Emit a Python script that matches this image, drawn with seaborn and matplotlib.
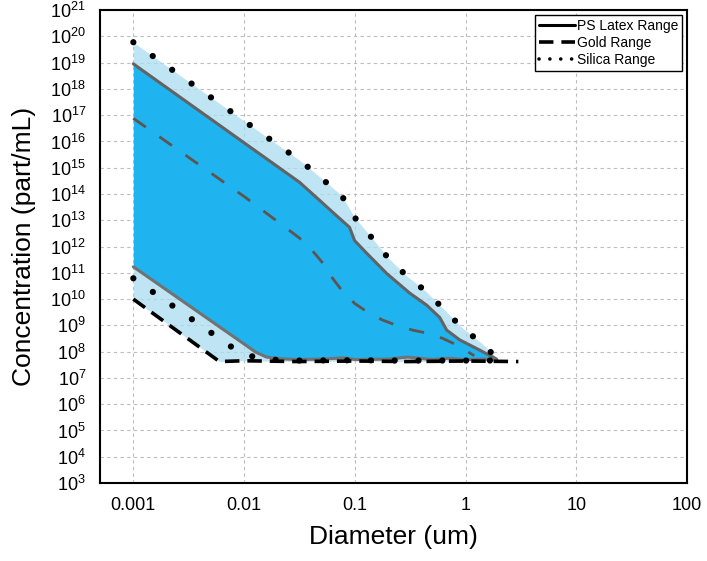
import matplotlib
matplotlib.use('Agg')
import matplotlib.pyplot as plt
import seaborn as sns
import numpy as np
import pandas as pd
from matplotlib.lines import Line2D
from matplotlib.ticker import LogLocator, NullLocator, NullFormatter

# PS Latex range - upper / lower limit (diameter um, part/mL)
ps_hi_d = [0.001, 0.0317, 0.048, 0.0684, 0.0897, 0.0995, 0.128, 0.194, 0.313,
           0.446, 0.585, 0.676, 0.887, 1.34, 1.91]
ps_hi_c = [9e18, 2.8e14, 5.8e13, 1.5e13, 5.4e12, 1.7e12, 5.6e11, 9.5e10, 1.7e10,
           5.9e9, 2.0e9, 6.6e8, 2.8e8, 1.15e8, 5.2e7]
ps_lo_d = [0.001, 0.0103, 0.0127, 0.016, 0.021, 0.03, 0.05, 0.08, 0.1, 0.2,
           0.3, 0.5, 0.7, 1.0, 1.5, 1.91]
ps_lo_c = [1.7e11, 1.8e8, 9.6e7, 6.2e7, 5.4e7, 5.0e7, 5.2e7, 5.8e7, 5.0e7, 5.2e7,
           6.2e7, 5.0e7, 5.6e7, 5.0e7, 5.2e7, 5.0e7]

# Gold range
gold_hi_d = [0.001, 0.0103, 0.0317, 0.0433, 0.0534, 0.063, 0.076, 0.0995, 0.130,
             0.178, 0.239, 0.333, 0.455, 0.622, 0.832, 1.2]
gold_hi_c = [7.6e16, 7.4e13, 2.1e12, 5.6e11, 1.95e11, 6.2e10, 2.2e10, 6.9e9, 3.2e9,
             1.6e9, 1.0e9, 6.6e8, 5.0e8, 3.2e8, 1.8e8, 7e7]
gold_lo_d = [0.001, 0.006, 0.01, 0.03, 0.1, 0.3, 1.0, 3.0]
gold_lo_c = [1.0e10, 4.2e7, 4.5e7, 4.2e7, 4.4e7, 4.2e7, 4.4e7, 4.2e7]

# Silica range
si_hi_d = [0.001, 0.0337, 0.076, 0.0995, 0.142, 0.198, 0.29, 0.437, 0.635, 0.92, 1.40, 2.0]
si_hi_c = [6e19, 1.6e15, 8.9e13, 1.3e13, 2.2e12, 3.9e11, 8.1e10, 2.0e10, 4.2e9, 8.5e8, 2.1e8, 4.8e7]
si_lo_d = [0.001, 0.0093, 0.015, 0.03, 0.1, 0.3, 1.0, 2.0]
si_lo_c = [6.2e10, 8.7e7, 5.1e7, 4.6e7, 4.7e7, 4.6e7, 4.6e7, 4.6e7]

x_ticks = [0.001, 0.01, 0.1, 1, 10, 100]
x_labels = ['0.001', '0.01', '0.1', '1', '10', '100']
legend_labels = ['PS Latex Range', 'Gold Range', 'Silica Range']

sns.set_style('white')
plt.rcParams['font.family'] = ['Liberation Sans', 'DejaVu Sans']
plt.rcParams['mathtext.default'] = 'regular'
plt.rcParams['text.color'] = 'black'
plt.rcParams['axes.labelcolor'] = 'black'
plt.rcParams['xtick.color'] = 'black'
plt.rcParams['ytick.color'] = 'black'


def log_interp(xg, d, c):
    return 10 ** np.interp(np.log10(xg), np.log10(d), np.log10(c))


fig = plt.figure(figsize=(7.07, 5.61), dpi=100)
ax = fig.add_axes([0.1414, 0.139, 0.8303, 0.843])
ax.set_xscale('log')
ax.set_yscale('log')

# bandes de fond (la claire laisse voir la grille)
xg = np.logspace(-3, np.log10(si_hi_d[-1]), 400)
ax.fill_between(xg, log_interp(xg, gold_lo_d, gold_lo_c), log_interp(xg, si_hi_d, si_hi_c),
                color='#aadcf0', alpha=0.75, lw=0, zorder=1)
xg2 = np.logspace(-3, np.log10(ps_hi_d[-1]), 400)
ax.fill_between(xg2, log_interp(xg2, ps_lo_d, ps_lo_c), log_interp(xg2, ps_hi_d, ps_hi_c),
                color='#1fb3ef', lw=0, zorder=2)

curves = [
    (ps_hi_d, ps_hi_c, dict(color='#636363', lw=2.2, linestyle='-')),
    (ps_lo_d, ps_lo_c, dict(color='#727272', lw=2.2, linestyle='-')),
    (gold_hi_d, gold_hi_c, dict(color='#5e5450', lw=2.0, linestyle=(0, (5.5, 6)))),
    (gold_lo_d, gold_lo_c, dict(color='black', lw=2.6, linestyle=(0, (4, 2.2)))),
    (si_hi_d, si_hi_c, dict(color='black', lw=4.5, linestyle=(0, (0.01, 3.8)),
                            dash_capstyle='round')),
    (si_lo_d, si_lo_c, dict(color='black', lw=4.5, linestyle=(0, (0.01, 3.8)),
                            dash_capstyle='round')),
]
for d, c, kw in curves:
    df = pd.DataFrame({'d': d, 'c': c})
    sns.lineplot(data=df, x='d', y='c', ax=ax, sort=False, estimator=None,
                 zorder=4, legend=False, **kw)

ax.set_xlim(5e-4, 100)
ax.set_ylim(1e3, 1e21)
ax.set_xticks(x_ticks)
ax.set_xticklabels(x_labels)
ax.xaxis.set_minor_locator(LogLocator(base=10, subs=np.arange(2, 10), numticks=20))
ax.xaxis.set_minor_formatter(NullFormatter())
ax.set_yticks([10.0 ** k for k in range(3, 22)])
ax.yaxis.set_minor_locator(NullLocator())

ax.tick_params(axis='both', which='major', direction='out', length=6, width=1.5,
               labelsize=13, pad=4, colors='black')
ax.tick_params(axis='x', which='minor', direction='in', length=3.5, width=1.2)

ax.set_axisbelow(True)
ax.grid(True, which='major', linestyle=(0, (3, 3)), color='#bdbdbd', lw=0.8)
for s in ax.spines.values():
    s.set_linewidth(1.5)
    s.set_color('black')

ax.set_xlabel('Diameter (um)', fontsize=19, labelpad=8)
ax.set_ylabel('Concentration (part/mL)', fontsize=19, labelpad=10)

handles = [
    Line2D([], [], color='black', lw=2.2, linestyle='-'),
    Line2D([], [], color='black', lw=2.6, linestyle=(0, (4, 2.2))),
    Line2D([], [], color='black', lw=2.6, linestyle=(0, (0.01, 3)), dash_capstyle='round'),
]
leg = ax.legend(handles, legend_labels, loc='upper right', fontsize=10, frameon=True,
                fancybox=False, edgecolor='black', framealpha=1, borderaxespad=0.35,
                handlelength=2.6, handletextpad=0.1, labelspacing=0.2, borderpad=0.3)
leg.get_frame().set_linewidth(1.0)

fig.savefig('out.png', dpi=100, facecolor='white')
